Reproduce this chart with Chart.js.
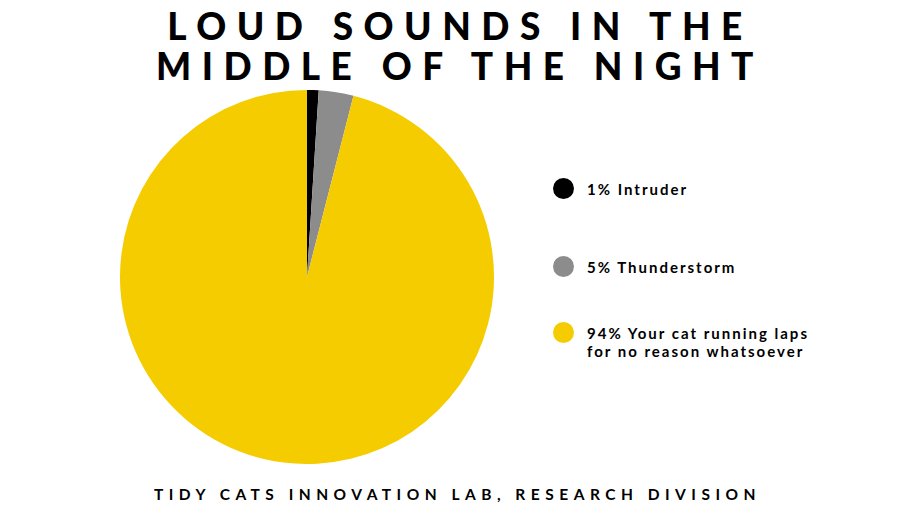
<!DOCTYPE html>
<html><head><meta charset="utf-8">
<script src="https://cdn.jsdelivr.net/npm/chart.js@4"></script>
<style>
body{margin:0;width:910px;height:512px;background:#fff;font-family:Lato,sans-serif;position:relative;overflow:hidden}
#title{position:absolute;top:6px;left:0;width:910px;text-align:center;font-weight:900;font-size:37px;line-height:40px;letter-spacing:10.5px;color:#000;padding-left:10px;box-sizing:border-box}
#pie{position:absolute;left:120px;top:90px;width:374px;height:374px}
#legend{position:absolute;left:553px;top:178px;font-size:15px;font-weight:bold;letter-spacing:2px;color:#000}
.item{position:absolute;left:0;white-space:nowrap;line-height:18px}
.dot{position:absolute;left:0;width:21px;height:21px;border-radius:50%}
.txt{position:absolute;left:34px}
#foot{position:absolute;top:485px;left:0;width:910px;text-align:center;font-size:15.5px;font-weight:bold;letter-spacing:5.5px;color:#000;padding-left:5px;box-sizing:border-box}
</style></head><body>
<div id="title">LOUD SOUNDS IN THE<br>MIDDLE OF THE NIGHT</div>
<div id="pie"><canvas id="c"></canvas></div>
<div id="legend"></div>
<div id="foot">TIDY CATS INNOVATION LAB, RESEARCH DIVISION</div>
<script>
const categories = ["Intruder","Thunderstorm","Your cat running laps for no reason whatsoever"];
const legendLabels = [["1% Intruder"],["5% Thunderstorm"],["94% Your cat running laps","for no reason whatsoever"]];
const values = [1,3,96];
const colors = ["#000000","#8c8c8c","#f5cc00"];
const legendTops = [0,78,144];
const lg=document.getElementById('legend');
legendLabels.forEach((l,i)=>{
  const d=document.createElement('div');d.className='item';d.style.top=legendTops[i]+'px';
  d.innerHTML='<div class="dot" style="background:'+colors[i]+'"></div><div class="txt" style="top:2px">'+l.join('<br>')+'</div>';
  lg.appendChild(d);
});
new Chart(document.getElementById('c'),{type:'pie',
 data:{labels:categories,datasets:[{data:values,backgroundColor:colors,borderWidth:0}]},
 options:{responsive:true,maintainAspectRatio:false,animation:false,layout:{padding:0},
  plugins:{legend:{display:false},tooltip:{enabled:false}}}});
</script></body></html>
